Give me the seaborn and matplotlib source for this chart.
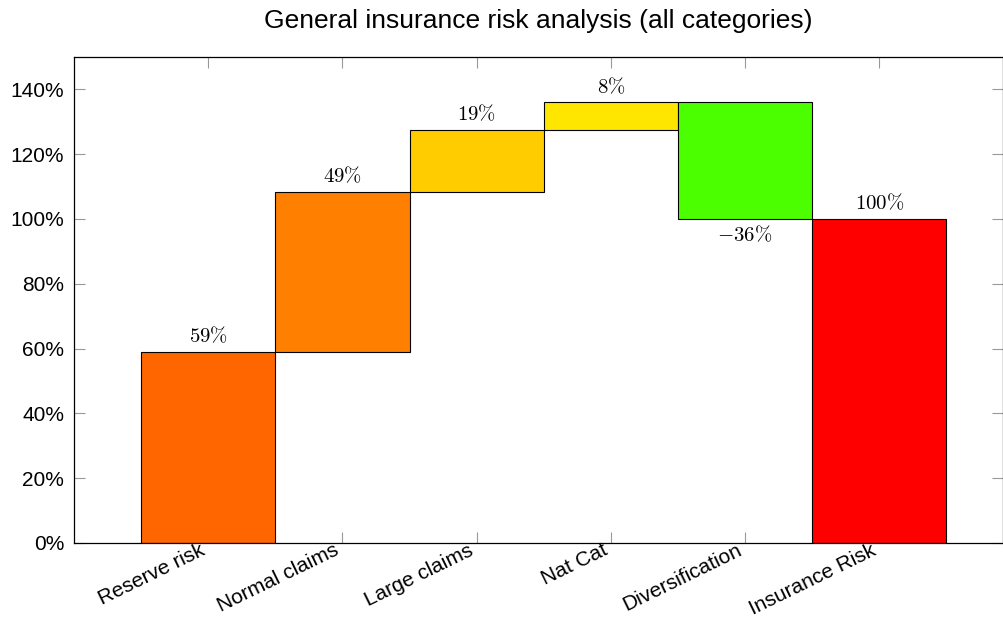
import numpy as np
import pandas as pd
import matplotlib
matplotlib.use("Agg")
import matplotlib.pyplot as plt
import seaborn as sns
from matplotlib.ticker import FuncFormatter
from matplotlib.transforms import ScaledTranslation

categories = ["Reserve risk", "Normal claims", "Large claims", "Nat Cat",
              "Diversification", "Insurance Risk"]
changes = [59.0, 49.4, 19.2, 8.4, -36.0, 100.0]
labels = ["59%", "49%", "19%", "8%", "\u221236%", "100%"]
colors = ["#FF6600", "#FF8000", "#FFCC00", "#FFE600", "#4CFF00", "#FF0000"]
y_ticks = [0, 20, 40, 60, 80, 100, 120, 140]

# waterfall: bottoms from running total, last bar is the total from zero
bottoms = []
total = 0.0
for i, c in enumerate(changes):
    if i == len(changes) - 1:
        bottoms.append(0.0)
    elif c >= 0:
        bottoms.append(total)
        total += c
    else:
        total += c
        bottoms.append(total)
heights = [abs(c) for c in changes]

df = pd.DataFrame({"category": categories, "height": heights})

sns.set_style("white")
plt.rcParams["font.family"] = ["Liberation Sans", "DejaVu Sans"]
plt.rcParams["mathtext.fontset"] = "cm"

fig = plt.figure(figsize=(10.04, 6.18), dpi=100)
ax = fig.add_axes([0.0737, 0.1214, 0.925, 0.7864])

sns.barplot(data=df, x="category", y="height", width=1.0, bottom=bottoms,
            color=colors[0], saturation=1, edgecolor="black", linewidth=0.8, ax=ax)
for patch, col in zip(ax.patches, colors):
    patch.set_facecolor(col)
    patch.set_alpha(1)

for i, (b, h, c, lab) in enumerate(zip(bottoms, heights, changes, labels)):
    txt = r"$" + lab.replace("%", r"\%").replace("\u2212", "-") + r"$"
    if c >= 0:
        ax.annotate(txt, (i, b + h), xytext=(0, 4), textcoords="offset points",
                    ha="center", va="bottom", fontsize=15, color="black")
    else:
        ax.annotate(txt, (i, b), xytext=(0, -4), textcoords="offset points",
                    ha="center", va="top", fontsize=15, color="black")

ax.set_xlim(-1, 5.92)
ax.set_ylim(0, 150)
ax.set_yticks(y_ticks)
ax.yaxis.set_major_formatter(FuncFormatter(lambda v, p: f"{v:.0f}%"))
ax.set_xlabel("")
ax.set_ylabel("")
ax.set_axisbelow(True)
ax.tick_params(axis="both", which="both", direction="in", length=8, width=0.8,
               color="#999999", labelsize=15, labelcolor="black", top=True, right=True,
               bottom=True, left=True, labelright=False, labeltop=False)
ax.tick_params(axis="x", pad=-1.5)
ax.tick_params(axis="y", pad=7)
ax.set_xticks(range(len(categories)))
ax.set_xticklabels(categories, rotation=26, ha="right", rotation_mode="anchor")
shift = ScaledTranslation(-9 / 100, 0, fig.dpi_scale_trans)
for lab in ax.get_xticklabels():
    lab.set_transform(lab.get_transform() + shift)
for s in ax.spines.values():
    s.set_visible(True)
    s.set_color("black")
    s.set_linewidth(0.9)

ax.set_title("General insurance risk analysis (all categories)", fontsize=19,
             pad=21, color="black")

fig.savefig("out.png", dpi=100)
